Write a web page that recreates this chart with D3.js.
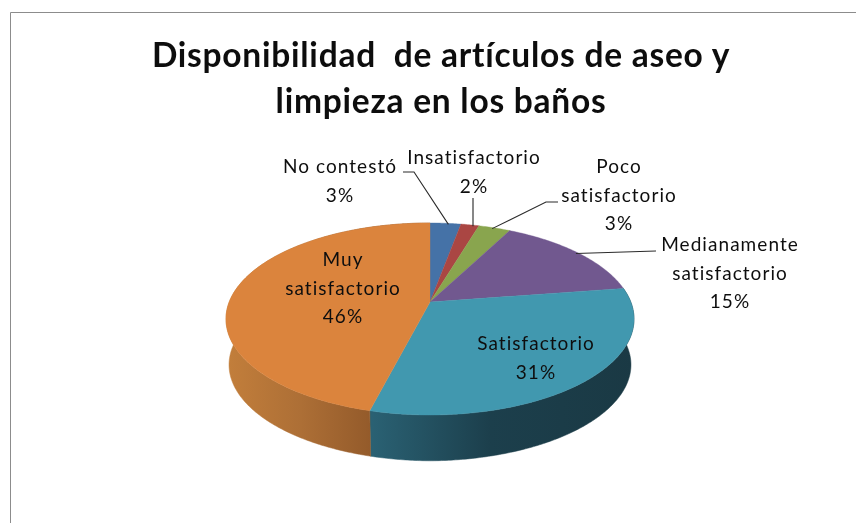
<!DOCTYPE html>
<html><head><meta charset="utf-8">
<script src="https://cdn.jsdelivr.net/npm/d3@7"></script>
<style>html,body{margin:0;padding:0;background:#fff}svg{display:block}</style>
</head><body><svg id="c" width="856" height="523"></svg>
<script>
const titleLines = ["Disponibilidad  de artículos de aseo y", "limpieza en los baños"];
const categories = ["No contestó", "Insatisfactorio", "Poco satisfactorio", "Medianamente satisfactorio", "Satisfactorio", "Muy satisfactorio"];
const shares = [2.9, 1.7, 3.0, 15.0, 31.4, 46.0];
const colours = ["#4572a7", "#aa4643", "#89a54e", "#71588f", "#4198af", "#db843d"];

// layout
const labelLines = [["No contestó"], ["Insatisfactorio"], ["Poco", "satisfactorio"], ["Medianamente", "satisfactorio"], ["Satisfactorio"], ["Muy", "satisfactorio"]];
const labelAnchor = [[340, 173], [474, 164], [619, 173], [730, 251], [536, 350], [343, 266]];
const leaderStart = [[[403, 172], [414, 172]], [[473, 198]], [[558, 202], [546, 202]], [[656, 251]], null, null];
const leaderAlong = [0.6, 0.7, 0.45, 0.5];
const lineStep = 28.5;
const apex = {x: 430, y: 302}, A = 200.8, B = 93, k = 0.177, depth = 46, shrink = 0.985;

const svg = d3.select("#c");
const defs = svg.append("defs");
const blur = defs.append("filter").attr("id", "soft").attr("x", "-5%").attr("y", "-5%").attr("width", "110%").attr("height", "110%");
blur.append("feGaussianBlur").attr("stdDeviation", 0.5);

function topRim(theta, r = 1) {
  const u = r * Math.sin(theta), v = -r * Math.cos(theta), w = 1 - k * v;
  return [apex.x + A * u / w, apex.y + B * v / w];
}
function bottomRim(theta) {
  const p = topRim(theta);
  return [apex.x + (p[0] - apex.x) * shrink, p[1] * shrink + (apex.y * (1 - shrink)) + depth + 1.5 * (1 - Math.abs(Math.sin(theta)))];
}
function arcPts(f, a0, a1) {
  const n = Math.max(2, Math.ceil(Math.abs(a1 - a0) / 0.01));
  return d3.range(n + 1).map(i => f(a0 + (a1 - a0) * i / n));
}
const line = d3.line();
const slices = d3.pie().sort(null).value(d => d)(shares);

// side gradients
function grad(id, x0, x1, stops) {
  const g = defs.append("linearGradient").attr("id", id).attr("gradientUnits", "userSpaceOnUse")
    .attr("x1", x0).attr("x2", x1).attr("y1", 0).attr("y2", 0);
  stops.forEach(s => g.append("stop").attr("offset", s[0]).attr("stop-color", s[1]));
}
grad("side5", 228, 373, [[0, "#c27e3b"], [0.5, "#ad6f36"], [1, "#935a2a"]]);
grad("side4", 372, 634, [[0, "#2a6173"], [0.45, "#1c3f4c"], [1, "#1a3944"]]);

// side walls of the two front slices
[4, 5].forEach(i => {
  const s = slices[i];
  const a0 = s.startAngle, a1 = s.endAngle;
  const pts = arcPts(topRim, a0, a1).concat(arcPts(bottomRim, a1, a0));
  svg.append("path").attr("d", line(pts) + "Z").attr("fill", `url(#side${i})`).attr("stroke", `url(#side${i})`).attr("stroke-width", 0.5);
});

// top face
slices.forEach((s, i) => {
  const pts = [[apex.x, apex.y]].concat(arcPts(topRim, s.startAngle, s.endAngle));
  svg.append("path").attr("d", line(pts) + "Z").attr("fill", colours[i]).attr("stroke", colours[i]).attr("stroke-width", 0.4);
});

// leaders
slices.forEach((s, i) => {
  if (!leaderStart[i]) return;
  const end = topRim(s.startAngle + (s.endAngle - s.startAngle) * leaderAlong[i], 0.985);
  svg.append("path").attr("d", line(leaderStart[i].concat([end]))).attr("fill", "none").attr("stroke", "#2b2b2b").attr("stroke-width", 1.1);
});

// border
svg.append("path").attr("d", "M10.5,523V12.5H856").attr("fill", "none").attr("stroke", "#8c8c8c").attr("stroke-width", 1);

const text = svg.append("g").attr("filter", "url(#soft)").attr("font-family", "Lato, 'Open Sans', sans-serif").attr("fill", "#111");
titleLines.forEach((t, i) => text.append("text").attr("x", 441).attr("y", 67 + i * 46).attr("text-anchor", "middle")
  .attr("font-size", 33.5).attr("font-weight", 700).attr("letter-spacing", 0.75).style("white-space", "pre").text(t));
categories.forEach((c, i) => {
  const rows = labelLines[i].concat([Math.round(shares[i]) + "%"]);
  rows.forEach((r, j) => text.append("text").attr("x", labelAnchor[i][0]).attr("y", labelAnchor[i][1] + j * lineStep)
    .attr("text-anchor", "middle").attr("font-size", 19).attr("letter-spacing", 1.05).text(r));
});
</script></body></html>
